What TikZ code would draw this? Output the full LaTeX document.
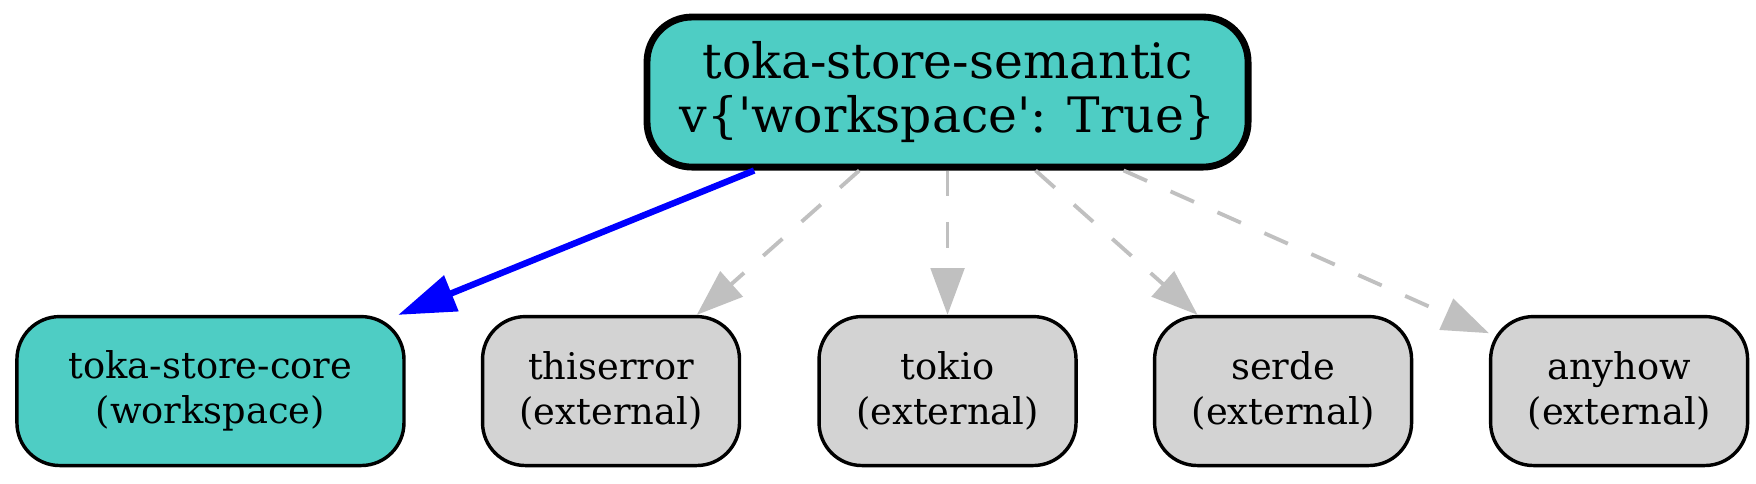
\documentclass[tikz,border=0pt]{standalone}
\usepackage{fontspec}
\newfontfamily\gvfont{DejaVu Serif}
\usetikzlibrary{arrows.meta}
\definecolor{wsfill}{HTML}{4ECDC4}
\definecolor{extfill}{HTML}{D3D3D3}
\definecolor{extedge}{HTML}{C0C0C0}
\tikzset{
  rootcrate/.style={rectangle,draw,line width=1.6pt,rounded corners=10.5pt,fill=wsfill,
    minimum width=4.935cm,minimum height=1.232cm,align=center,
    font=\gvfont\fontsize{11.4}{12.6}\selectfont},
  wscrate/.style={rectangle,draw,line width=0.8pt,rounded corners=10pt,fill=wsfill,
    minimum width=3.178cm,minimum height=1.223cm,align=center,
    font=\gvfont\fontsize{8.6}{10.5}\selectfont},
  extcrate/.style={wscrate,fill=extfill,minimum width=2.11cm},
  wsdep/.style={draw=blue,line width=1.5pt,-{Triangle[length=13.4pt,width=8.7pt]}},
  extdep/.style={draw=extedge,line width=0.9pt,dash pattern=on 6pt off 6pt,
    -{Triangle[length=10.9pt,width=7.8pt]}}
}
\begin{document}
\begin{tikzpicture}
    \useasboundingbox (0,0) rectangle (14.418,3.966);
    \node (sem) at (7.78,3.21) [rootcrate] {toka-store-semantic\\v\{'workspace': True\}};
    \node (core) at (1.728,0.755) [wscrate] {toka-store-core\\(workspace)};
    \node (thiserror) at (5.017,0.755) [extcrate] {thiserror\\(external)};
    \node (tokio) at (7.78,0.755) [extcrate] {tokio\\(external)};
    \node (serde) at (10.535,0.755) [extcrate] {serde\\(external)};
    \node (anyhow) at (13.294,0.755) [extcrate] {anyhow\\(external)};
    \draw [wsdep] (sem) -- (core);
    \draw [extdep] (sem) -- (thiserror);
    \draw [extdep] (sem) -- (tokio);
    \draw [extdep] (sem) -- (serde);
    \draw [extdep] (sem) -- (anyhow);
  \end{tikzpicture}
\end{document}
